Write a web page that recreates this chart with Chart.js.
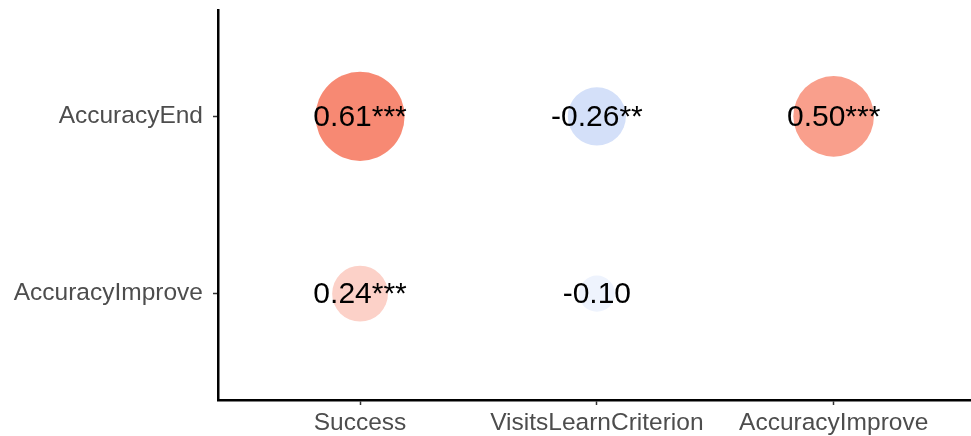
<!DOCTYPE html>
<html>
<head>
<meta charset="utf-8">
<script src="https://cdn.jsdelivr.net/npm/chart.js@4/dist/chart.umd.min.js"></script>
<style>
  body { margin: 0; background: #fff; }
  #wrap { width: 971px; height: 436px; }
</style>
</head>
<body>
<div id="wrap"><canvas id="corrChart" width="971" height="436"></canvas></div>
<script>
// columns and rows of the correlation grid
const xCats = ['Success', 'VisitsLearnCriterion', 'AccuracyImprove'];
const yCats = ['AccuracyImprove', 'AccuracyEnd']; // bottom to top

// one entry per cell that is shown
const cellX = ['Success', 'VisitsLearnCriterion', 'AccuracyImprove', 'Success', 'VisitsLearnCriterion'];
const cellY = ['AccuracyEnd', 'AccuracyEnd', 'AccuracyEnd', 'AccuracyImprove', 'AccuracyImprove'];
const corrValues = [0.61, -0.26, 0.50, 0.24, -0.10];
const stars = ['***', '**', '***', '***', ''];

const FONT = 'Arial, "Liberation Sans", sans-serif';

function corrColor(v) {
    // white in the middle, red for positive, blue for negative
    const end = v >= 0 ? [242, 62, 25] : [88, 136, 232];
    const t = Math.min(Math.abs(v), 1);
    const c = end.map(e => Math.round(255 - t * (255 - e)));
    return `rgb(${c[0]}, ${c[1]}, ${c[2]})`;
}

const points = corrValues.map((v, i) => ({
    x: xCats.indexOf(cellX[i]) + 1,
    y: yCats.indexOf(cellY[i]) + 1,
    r: 57 * Math.sqrt(Math.abs(v))
}));

// write the coefficient + stars on top of each bubble
const valueLabels = {
    id: 'valueLabels',
    afterDatasetsDraw(chart) {
        const ctx = chart.ctx;
        const meta = chart.getDatasetMeta(0);
        ctx.save();
        ctx.font = `30px ${FONT}`;
        ctx.fillStyle = '#000';
        ctx.textAlign = 'center';
        ctx.textBaseline = 'middle';
        meta.data.forEach((el, i) => {
            const txt = corrValues[i].toFixed(2) + stars[i];
            ctx.fillText(txt, el.x, el.y + 1);
        });
        ctx.restore();
    }
};

new Chart(document.getElementById('corrChart'), {
    type: 'bubble',
    data: {
        datasets: [{
            data: points,
            backgroundColor: corrValues.map(corrColor),
            borderWidth: 0,
            hoverBorderWidth: 0
        }]
    },
    options: {
        responsive: false,
        devicePixelRatio: 1,
        animation: false,
        events: [],
        layout: { autoPadding: false, padding: { top: 10, right: 0, bottom: 0, left: 0 } },
        plugins: {
            legend: { display: false },
            tooltip: { enabled: false }
        },
        scales: {
            x: {
                type: 'linear',
                min: 0.4,
                max: 3.58,
                afterBuildTicks: (scale) => { scale.ticks = xCats.map((c, i) => ({ value: i + 1 })); },
                afterFit: (scale) => { scale.height = 36; scale.paddingLeft = 0; scale.paddingRight = 0; },
                border: { display: true, color: '#000', width: 2.5 },
                grid: { drawOnChartArea: false, drawTicks: true, tickLength: 5, tickColor: '#333', tickWidth: 1.5 },
                ticks: {
                    autoSkip: false,
                    maxRotation: 0,
                    padding: 4,
                    color: '#4d4d4d',
                    font: { family: FONT, size: 24.5 },
                    callback: (v) => xCats[v - 1]
                }
            },
            y: {
                type: 'linear',
                min: 0.4,
                max: 2.6,
                afterBuildTicks: (scale) => { scale.ticks = yCats.map((c, i) => ({ value: i + 1 })); },
                afterFit: (scale) => { scale.width = 218; scale.paddingTop = 0; scale.paddingBottom = 0; },
                border: { display: true, color: '#000', width: 2.5 },
                grid: { drawOnChartArea: false, drawTicks: true, tickLength: 5, tickColor: '#333', tickWidth: 1.5 },
                ticks: {
                    autoSkip: false,
                    padding: 10,
                    color: '#4d4d4d',
                    font: { family: FONT, size: 24.5 },
                    callback: (v) => yCats[v - 1]
                }
            }
        }
    },
    plugins: [valueLabels]
});
</script>
</body>
</html>
